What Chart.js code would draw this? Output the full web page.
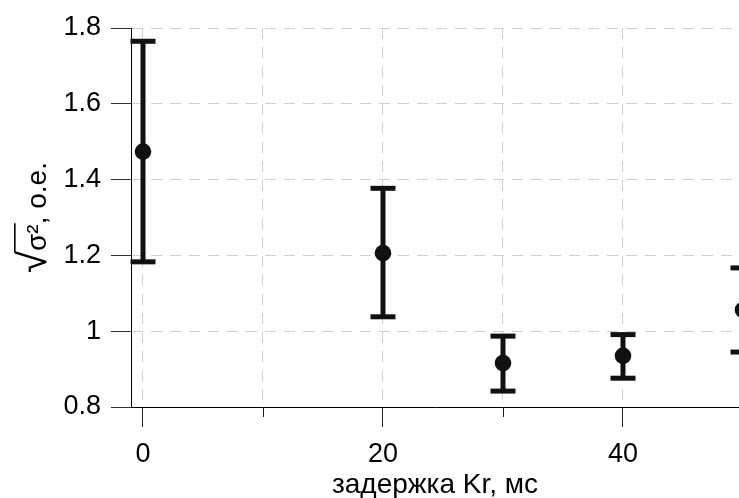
<!DOCTYPE html>
<html>
<head>
<meta charset="utf-8">
<script src="https://cdn.jsdelivr.net/npm/chart.js@4.4.1/dist/chart.umd.min.js"></script>
<style>
  html, body { margin: 0; padding: 0; background: #fff; overflow: hidden; }
  #wrap { width: 739px; height: 498px; }
</style>
</head>
<body>
<div id="wrap"><canvas id="c" width="739" height="498"></canvas></div>
<script>
// Mean deviation per Kr delay with error-bar limits
const delays      = [0, 20, 30, 40, 50];
const meanValues  = [1.474, 1.206, 0.916, 0.935, 1.056];
const lowerValues = [1.183, 1.038, 0.842, 0.876, 0.945];
const upperValues = [1.765, 1.377, 0.987, 0.991, 1.167];

// Axis ticks
const xTickValues = [0, 10, 20, 30, 40];
const xTickLabels = ['0', '', '20', '', '40'];
const xMinorTicks = [10, 30];
const yTickValues = [0.8, 1, 1.2, 1.4, 1.6, 1.8];
const yTickLabels = ['0.8', '1', '1.2', '1.4', '1.6', '1.8'];

// Visible x range (the last delay sits just past the right edge)
const X_MIN = -1;
const X_MAX = 49.667;

const FONT = "'Liberation Sans', Arial, sans-serif";
const INK = '#111111';
const GRID = '#d0d0d0';

const meanPoints = delays.map((x, i) => ({ x, y: meanValues[i] }));
const capPoints = delays.flatMap((x, i) => [{ x, y: lowerValues[i] }, { x, y: upperValues[i] }]);
const whiskerPoints = delays.flatMap((x, i) => [
  { x, y: lowerValues[i] }, { x, y: upperValues[i] }, { x, y: null }
]);

// y axis title: radical sign, its argument and the unit
const yTitleParts = [
  { text: '√', size: 40 },
  { text: 'σ²', size: 28 },
  { text: ', о.е.', size: 28 }
];
const Y_TITLE_BASELINE_X = 46;

const axisExtras = {
  id: 'axisExtras',
  afterDraw(chart) {
    const { ctx, scales: { x, y } } = chart;
    ctx.save();
    // short minor ticks on the x axis
    ctx.strokeStyle = '#222';
    ctx.lineWidth = 1;
    xMinorTicks.forEach(v => {
      const px = Math.round(x.getPixelForValue(v)) + 0.5;
      ctx.beginPath();
      ctx.moveTo(px, x.top);
      ctx.lineTo(px, x.top + 10);
      ctx.stroke();
    });

    // rotated y title
    const cy = (y.top + y.bottom) / 2;
    ctx.translate(Y_TITLE_BASELINE_X, cy);
    ctx.rotate(-Math.PI / 2);
    ctx.fillStyle = '#000';
    ctx.textBaseline = 'alphabetic';
    ctx.textAlign = 'left';
    const metrics = yTitleParts.map(p => {
      ctx.font = `${p.size}px ${FONT}`;
      return ctx.measureText(p.text);
    });
    const total = metrics.reduce((s, m) => s + m.width, 0);
    let pos = -total / 2;
    const starts = [];
    yTitleParts.forEach((p, i) => {
      ctx.font = `${p.size}px ${FONT}`;
      ctx.fillText(p.text, pos, 0);
      starts.push(pos);
      pos += metrics[i].width;
    });
    // bar of the radical over σ²
    const rad = metrics[0];
    const barY = -rad.actualBoundingBoxAscent + 0.8;
    const x1 = starts[0] + rad.actualBoundingBoxRight - 1;
    const x2 = starts[1] + metrics[1].width + 1;
    ctx.strokeStyle = '#000';
    ctx.lineWidth = 1.6;
    ctx.beginPath();
    ctx.moveTo(x1, barY);
    ctx.lineTo(x2, barY);
    ctx.stroke();
    ctx.restore();
  }
};

new Chart(document.getElementById('c'), {
  data: {
    datasets: [
      {
        type: 'scatter',
        data: meanPoints,
        pointRadius: 8.3,
        pointBackgroundColor: INK,
        pointBorderWidth: 0,
        clip: false,
        order: 0
      },
      {
        type: 'scatter',
        data: capPoints,
        pointStyle: 'line',
        pointRadius: 12.5,
        pointBorderWidth: 5,
        pointBorderColor: INK,
        clip: false,
        order: 1
      },
      {
        type: 'line',
        data: whiskerPoints,
        borderColor: INK,
        borderWidth: 5,
        pointRadius: 0,
        fill: false,
        spanGaps: false,
        clip: false,
        order: 2
      }
    ]
  },
  options: {
    responsive: false,
    animation: false,
    events: [],
    layout: { autoPadding: false, padding: { left: 0, right: 0, top: 28, bottom: 0 } },
    plugins: { legend: { display: false }, tooltip: { enabled: false } },
    scales: {
      x: {
        type: 'linear',
        min: X_MIN,
        bounds: 'data',
        afterDataLimits: s => { s.max = X_MAX; },
        afterBuildTicks: s => { s.ticks = xTickValues.map(v => ({ value: v })); },
        afterFit: s => { s.height = 91; s.paddingLeft = 0; s.paddingRight = 0; },
        ticks: {
          callback: (v, i) => xTickLabels[i],
          font: { family: FONT, size: 27 },
          color: '#000',
          padding: 11,
          maxRotation: 0,
          autoSkip: false
        },
        grid: {
          color: GRID,
          lineWidth: 1,
          tickLength: 20,
          tickColor: c => xMinorTicks.includes(c.tick && c.tick.value) ? 'rgba(0,0,0,0)' : '#222'
        },
        border: { color: '#000', width: 1, dash: [11, 8] },
        title: {
          display: true,
          text: 'задержка Kr, мс',
          font: { family: FONT, size: 28, lineHeight: 1 },
          color: '#000',
          padding: { top: 0, bottom: -1 }
        }
      },
      y: {
        type: 'linear',
        min: 0.8,
        max: 1.8,
        afterBuildTicks: s => { s.ticks = yTickValues.map(v => ({ value: v })); },
        afterFit: s => { s.width = 131; },
        ticks: {
          callback: (v, i) => yTickLabels[i],
          font: { family: FONT, size: 27 },
          color: '#000',
          padding: 10
        },
        grid: {
          color: c => (c.tick && c.tick.value === 0.8) ? 'rgba(0,0,0,0)' : GRID,
          lineWidth: 1,
          tickLength: 20,
          tickColor: '#333'
        },
        border: { color: '#000', width: 1, dash: [11, 8] },
        title: { display: false }
      }
    }
  },
  plugins: [axisExtras]
});
</script>
</body>
</html>
